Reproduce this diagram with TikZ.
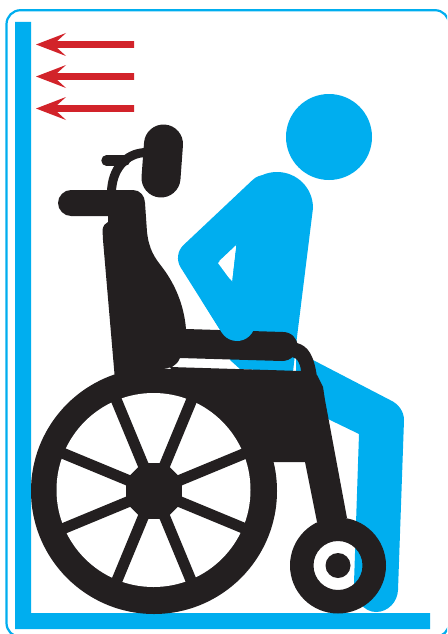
\documentclass[tikz,border=0pt]{standalone}
\definecolor{skyb}{HTML}{00AEEF}
\definecolor{redar}{HTML}{D2232A}
\definecolor{blk}{HTML}{231F20}
\tikzset{
  wall/.style={fill=skyb},
  person/.style={fill=skyb},
  limb/.style={draw=skyb,line width=36pt,line cap=round,line join=round},
  chair/.style={fill=blk},
  tube/.style={draw=blk,line cap=round},
  arrowshaft/.style={fill=redar}
}
\newcommand{\redarrow}[1]{%
  \fill[arrowshaft,shift={(0,#1)}] (134,-3.3) -- (57,-3.3) -- (66,-11.5) -- (36,0) -- (66,11.5) -- (57,3.3) -- (134,3.3) -- cycle;}
\begin{document}
\begin{tikzpicture}[x=1pt,y=-1pt]
\useasboundingbox (0,0) rectangle (447,634);
\clip (0,0) rectangle (447,634);
\fill[white] (0,0) rectangle (447,634);
% frame
\draw[skyb,line width=2.2pt,rounded corners=14pt] (6.5,10.2) rectangle (449,637);
% walls
\fill[wall] (15,22) -- (31,22) -- (31,613) -- (430,613) -- (430,629) -- (15,629) -- cycle;
% arrows
\redarrow{44.5}
\redarrow{76.5}
\redarrow{108.5}
% person
\fill[person] (329,137) circle (43);
\fill[person] (241,208) .. controls (241,188) and (257,172) .. (277,172) .. controls (297,172) and (313,188) .. (313,208) -- (296,345) -- (293,372) -- (240,369) -- (230,360) -- (224,340) -- cycle;
\draw[limb] (265,193) -- (196,258) -- (237,323);
\fill[white] (236,246) -- (218,263) -- (232,282) -- cycle;
\fill[person] (296,345) -- (313,360) -- (390,400) .. controls (399,404) and (404,412) .. (404,420) -- (398,590) .. controls (397.5,602) and (388,612) .. (376,612) .. controls (364,612) and (354,600) .. (354,583) -- (359,434) -- (328,419) -- (296,400) -- cycle;
% chair back, arm rest and seat
\fill[chair] (71,190) -- (133,190) .. controls (140,190) and (145,196) .. (145,203) -- (147,232) .. controls (149,250) and (155,258) .. (162,267) .. controls (175,284) and (184,305) .. (186,329) -- (283,332) .. controls (291,332) and (297.5,338) .. (297.5,346) .. controls (297.5,354) and (291,361) .. (282,361) -- (180,358) .. controls (178,363) and (175,365) .. (172,367) -- (115,380) -- (103,240) -- (102.5,230) .. controls (103,226) and (105,223) .. (108,222) -- (108,216) -- (71,216) .. controls (64,216) and (58,210) .. (58,203) .. controls (58,196) and (64,190) .. (71,190) -- cycle;
% head rest
\draw[tube,line width=39pt] (163.5,144) -- (161,178);
\draw[tube,line width=9pt,line cap=butt] (146,152.5) .. controls (125,153) and (112,170) .. (111.5,192);
\draw[tube,line width=10.5pt] (106.5,160.5) -- (125,160.5);
% frame bars
\fill[chair] (292,357) .. controls (297,358) and (300,362) .. (301,371) -- (323,390) -- (317,377) .. controls (314,355) and (308,346) .. (297,343) -- cycle;
\fill[chair] (170,367) -- (301,371) -- (317,375) -- (323,387) -- (325,400) -- (347,518) -- (317,522) -- (305,462) -- (270,462) -- (200,430) -- cycle;
% big wheel
\fill[chair] (154,491) circle (123);
\fill[white] (153.5,490) circle (97);
\foreach \a in {22.5,67.5,...,337.5}{
  \draw[blk,line width=11pt] (154,491) -- ++(\a:100);
}
\fill[chair,shift={(154,491)}] (22.5:30.3) -- (67.5:30.3) -- (112.5:30.3) -- (157.5:30.3) -- (202.5:30.3) -- (247.5:30.3) -- (292.5:30.3) -- (337.5:30.3) -- cycle;
% caster
\fill[chair,even odd rule] (338,565.5) circle (48) (338,565.5) circle (24.5);
\fill[chair] (338,565.5) circle (12.5);
% hand over the arm rest
\draw[limb] (218,292.5) -- (237,323);
\end{tikzpicture}
\end{document}
